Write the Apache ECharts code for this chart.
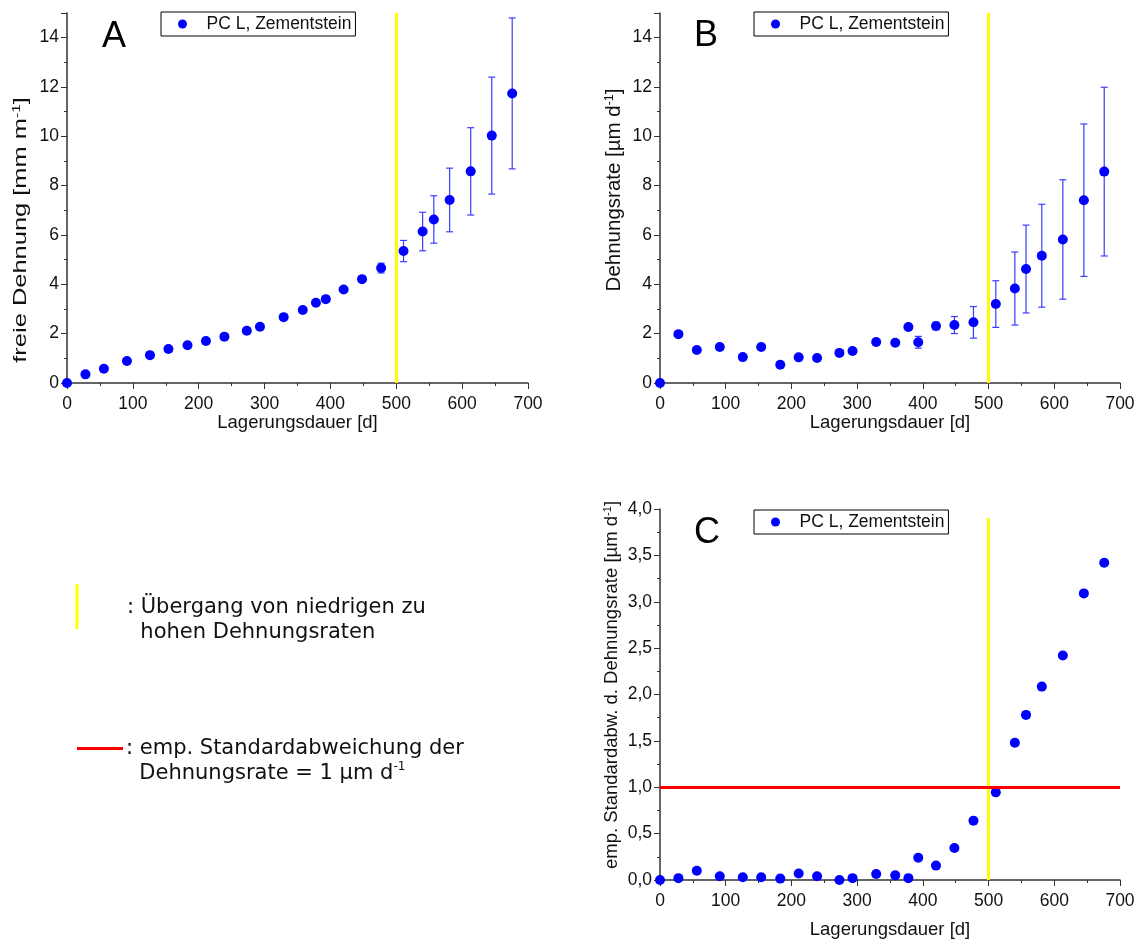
<!DOCTYPE html>
<html>
<head>
<meta charset="utf-8">
<script src="https://cdn.jsdelivr.net/npm/echarts@6/dist/echarts.min.js"></script>
<style>
  html, body { margin: 0; padding: 0; background: #fff; }
  #chart { width: 1145px; height: 943px; }
</style>
</head>
<body>
<div id="chart"></div>
<script>
// Lagerungsdauer [d]
const days = [0, 28, 56, 91, 126, 154, 183, 211, 239, 273, 293, 329, 358, 378, 393, 420, 448, 477, 511, 540, 557, 581, 613, 645, 676];
// A: freie Dehnung [mm/m] und Fehler
const strain = [0, 0.35, 0.58, 0.89, 1.13, 1.38, 1.53, 1.70, 1.88, 2.12, 2.28, 2.67, 2.96, 3.25, 3.40, 3.79, 4.21, 4.66, 5.35, 6.14, 6.63, 7.42, 8.58, 10.03, 11.74];
const strainErr = [0, 0, 0, 0, 0, 0, 0, 0, 0, 0, 0, 0, 0, 0, 0, 0, 0.05, 0.2, 0.43, 0.78, 0.96, 1.29, 1.77, 2.37, 3.06];
// B: Dehnungsrate [um/d]
const rate = [0, 1.98, 1.34, 1.46, 1.05, 1.46, 0.74, 1.04, 1.01, 1.22, 1.30, 1.66, 1.63, 2.27, 1.65, 2.31, 2.35, 2.46, 3.20, 3.83, 4.62, 5.16, 5.82, 7.41, 8.57];
// C: emp. Standardabweichung der Dehnungsrate (= Fehlerbalken in B)
const rateSd = [0, 0.02, 0.10, 0.04, 0.03, 0.03, 0.015, 0.07, 0.04, 0, 0.02, 0.065, 0.05, 0.02, 0.24, 0.155, 0.345, 0.64, 0.945, 1.48, 1.78, 2.085, 2.42, 3.09, 3.42];

const seriesName = 'PC L, Zementstein';
const transitionDay = 500;
const sdLimit = 1.0;

const font = 'Liberation Sans';
const axisColor = '#333';

function errBar(params, api) {
  const x = api.value(0), y = api.value(1), e = api.value(2);
  if (!e) return null;
  const lo = api.coord([x, y - e]);
  const hi = api.coord([x, y + e]);
  const w = 3.5;
  const st = { stroke: '#3b3bff', lineWidth: 1.2 };
  return {
    type: 'group',
    children: [
      { type: 'line', shape: { x1: lo[0], y1: lo[1], x2: hi[0], y2: hi[1] }, style: st },
      { type: 'line', shape: { x1: lo[0] - w, y1: lo[1], x2: lo[0] + w, y2: lo[1] }, style: st },
      { type: 'line', shape: { x1: hi[0] - w, y1: hi[1], x2: hi[0] + w, y2: hi[1] }, style: st }
    ]
  };
}

function xAxisDef(idx, gap) {
  return {
    gridIndex: idx, type: 'value', min: 0, max: 700, interval: 100,
    name: 'Lagerungsdauer [d]', nameLocation: 'middle', nameGap: gap,
    nameTextStyle: { fontFamily: font, fontSize: 18.5, color: '#111' },
    axisLine: { onZero: false, lineStyle: { color: axisColor, width: 1.5 } },
    axisTick: { length: 6, lineStyle: { color: axisColor } },
    minorTick: { show: true, splitNumber: 2, length: 3, lineStyle: { color: axisColor } },
    axisLabel: { fontFamily: font, fontSize: 17.5, color: '#111', margin: 12 },
    splitLine: { show: false }
  };
}

function yAxisDef(idx, max, interval, fmt) {
  return {
    gridIndex: idx, type: 'value', min: 0, max: max, interval: interval,
    axisLine: { show: true, onZero: false, lineStyle: { color: axisColor, width: 1.5 } },
    axisTick: { length: 6, lineStyle: { color: axisColor } },
    minorTick: { show: true, splitNumber: 2, length: 3, lineStyle: { color: axisColor } },
    axisLabel: { fontFamily: font, fontSize: 17.5, color: '#111', margin: 8, showMaxLabel: max === 4, formatter: fmt },
    splitLine: { show: false }
  };
}

function legendDef(left, top) {
  return {
    left: left, top: top, data: [seriesName], orient: 'horizontal',
    icon: 'circle', itemWidth: 10, itemHeight: 9,
    padding: [3, 4, 3, 17], borderColor: '#000', borderWidth: 1,
    textStyle: { fontFamily: font, fontSize: 17.5, color: '#111', padding: [0, 0, 0, 14] },
    selectedMode: false
  };
}

function yName(text, x, y, size, stretch) {
  return {
    type: 'text', x: x, y: y, rotation: Math.PI / 2, scaleX: stretch, scaleY: 1,
    style: {
      text: text, fontFamily: font, fontSize: size, fill: '#111',
      align: 'center', verticalAlign: 'middle',
      rich: {
        n: { fontFamily: font, fontSize: size, fill: '#111' },
        sup: { fontFamily: font, fontSize: size * 0.6, verticalAlign: 'top', fill: '#111' }
      }
    }
  };
}

const pts = (ys, es) => days.map((d, i) => es ? [d, ys[i], es[i]] : [d, ys[i]]);

const dotStyle = { color: '#0000ff', opacity: 1 };

let chartDom = document.getElementById('chart');
let myChart = echarts.init(chartDom);
let option;

option = {
  animation: false,
  backgroundColor: '#fff',
  grid: [
    { left: 67, top: 13, width: 461, height: 370, outerBoundsMode: 'none', containLabel: false },
    { left: 660, top: 13, width: 460, height: 370, outerBoundsMode: 'none', containLabel: false },
    { left: 660, top: 509, width: 460, height: 371, outerBoundsMode: 'none', containLabel: false }
  ],
  xAxis: [xAxisDef(0, 28), xAxisDef(1, 28), xAxisDef(2, 40)],
  yAxis: [
    yAxisDef(0, 15, 2),
    yAxisDef(1, 15, 2),
    yAxisDef(2, 4, 0.5, v => v.toFixed(1).replace('.', ','))
  ],
  legend: [legendDef(161, 12), legendDef(754, 12), legendDef(754, 510)],
  graphic: [
    yName('{n|freie Dehnung [mm m}{sup|-1}{n|]}', 21, 230, 19, 1.34),
    yName('{n|Dehnungsrate [µm d}{sup|-1}{n|]}', 614, 190, 20.5, 1),
    yName('{n|emp. Standardabw. d. Dehnungsrate [µm d}{sup|-1}{n|]}', 612, 685, 18.5, 1),
    { type: 'text', left: 102, top: 19, style: { text: 'A', fontFamily: font, fontSize: 36, fill: '#000' } },
    { type: 'text', left: 694, top: 18, style: { text: 'B', fontFamily: font, fontSize: 36, fill: '#000' } },
    { type: 'text', left: 694, top: 515, style: { text: 'C', fontFamily: font, fontSize: 36, fill: '#000' } },
    { type: 'line', shape: { x1: 77, y1: 584, x2: 77, y2: 629 }, style: { stroke: '#ffff00', lineWidth: 3 } },
    {
      type: 'text', left: 127, top: 595,
      style: {
        text: ': Übergang von niedrigen zu\n  hohen Dehnungsraten',
        fontFamily: 'DejaVu Sans', fontSize: 21, lineHeight: 25, fill: '#111'
      }
    },
    { type: 'line', shape: { x1: 77, y1: 748.5, x2: 123, y2: 748.5 }, style: { stroke: '#ff0000', lineWidth: 3 } },
    {
      type: 'text', left: 126, top: 736,
      style: {
        text: ': emp. Standardabweichung der\n  Dehnungsrate = 1 µm d{sup|-1}',
        fontFamily: 'DejaVu Sans', fontSize: 21, lineHeight: 25, fill: '#111',
        rich: { sup: { fontFamily: 'DejaVu Sans', fontSize: 12, verticalAlign: 'top', fill: '#111' } }
      }
    }
  ],
  series: [
    {
      name: 'errA', type: 'custom', xAxisIndex: 0, yAxisIndex: 0,
      renderItem: errBar, data: pts(strain, strainErr), encode: { x: 0, y: 1 }, z: 2
    },
    {
      name: seriesName, type: 'scatter', xAxisIndex: 0, yAxisIndex: 0,
      symbolSize: 10, itemStyle: dotStyle, data: pts(strain), z: 3,
      markLine: {
        silent: true, symbol: 'none', label: { show: false },
        lineStyle: { color: '#ffff00', width: 3, type: 'solid' },
        data: [{ xAxis: transitionDay }]
      }
    },
    {
      name: 'errB', type: 'custom', xAxisIndex: 1, yAxisIndex: 1,
      renderItem: errBar, data: pts(rate, rateSd), encode: { x: 0, y: 1 }, z: 2
    },
    {
      name: seriesName, type: 'scatter', xAxisIndex: 1, yAxisIndex: 1,
      symbolSize: 10, itemStyle: dotStyle, data: pts(rate), z: 3,
      markLine: {
        silent: true, symbol: 'none', label: { show: false },
        lineStyle: { color: '#ffff00', width: 3, type: 'solid' },
        data: [{ xAxis: transitionDay }]
      }
    },
    {
      name: seriesName, type: 'scatter', xAxisIndex: 2, yAxisIndex: 2,
      symbolSize: 10, itemStyle: dotStyle, data: pts(rateSd), z: 3,
      markLine: {
        silent: true, symbol: 'none', label: { show: false },
        data: [
          [
            { coord: [transitionDay, 3.9], lineStyle: { color: '#ffff00', width: 3, type: 'solid' } },
            { coord: [transitionDay, 0] }
          ],
          { yAxis: sdLimit, lineStyle: { color: '#ff0000', width: 3, type: 'solid' } }
        ]
      }
    }
  ]
};
myChart.setOption(option, true);
</script>
</body>
</html>
